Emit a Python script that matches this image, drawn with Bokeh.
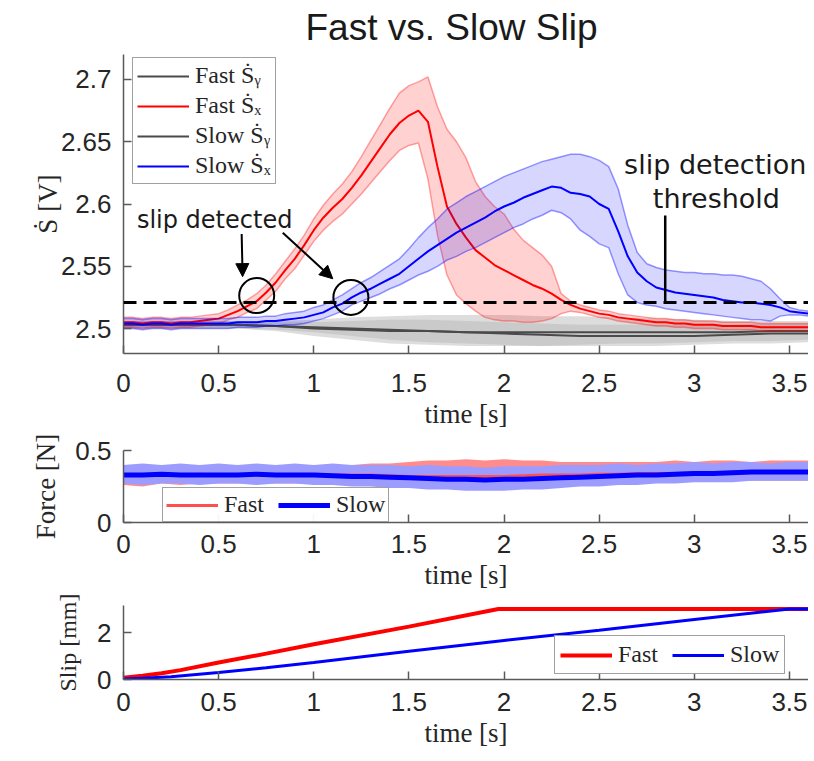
from bokeh.plotting import figure
from bokeh.layouts import column
from bokeh.models import Range1d, FixedTicker, Legend, LegendItem, Span, Arrow, NormalHead
from bokeh.core.properties import value
from bokeh.embed import file_html
from bokeh.resources import INLINE

# ---------------- data ----------------
TITLE = "Fast vs. Slow Slip"

T = [0.00,0.05,0.10,0.15,0.20,0.25,0.30,0.35,0.40,0.45,0.50,0.55,0.60,0.65,0.70,0.75,0.80,0.85,0.90,0.95,
     1.00,1.05,1.10,1.15,1.20,1.25,1.30,1.35,1.40,1.45,1.50,1.55,1.60,1.65,1.70,1.75,1.80,1.85,1.90,1.95,
     2.00,2.05,2.10,2.15,2.20,2.25,2.30,2.35,2.40,2.45,2.50,2.55,2.60,2.65,2.70,2.75,2.80,2.85,2.90,2.95,
     3.00,3.05,3.10,3.15,3.20,3.25,3.30,3.35,3.40,3.45,3.50,3.55,3.60]

fast_sx_mean = [2.505,2.505,2.504,2.505,2.505,2.504,2.505,2.505,2.506,2.507,2.508,2.511,2.514,2.518,2.522,2.529,2.537,2.547,2.556,2.567,
                2.579,2.589,2.597,2.604,2.613,2.623,2.634,2.645,2.656,2.665,2.671,2.675,2.666,2.630,2.598,2.584,2.573,2.563,2.557,2.551,
                2.547,2.543,2.539,2.535,2.532,2.528,2.523,2.519,2.516,2.514,2.512,2.511,2.509,2.508,2.507,2.506,2.505,2.505,2.504,2.504,
                2.503,2.503,2.503,2.502,2.502,2.502,2.502,2.501,2.501,2.501,2.501,2.501,2.501]
fast_sx_hi = [2.509,2.509,2.508,2.509,2.509,2.508,2.509,2.509,2.510,2.511,2.512,2.515,2.519,2.523,2.528,2.535,2.544,2.554,2.564,2.575,
              2.588,2.599,2.608,2.616,2.626,2.638,2.651,2.664,2.677,2.689,2.695,2.698,2.702,2.678,2.660,2.650,2.637,2.618,2.606,2.598,
              2.592,2.580,2.571,2.565,2.559,2.550,2.528,2.522,2.519,2.517,2.515,2.514,2.512,2.511,2.510,2.509,2.508,2.508,2.507,2.507,
              2.506,2.506,2.506,2.505,2.505,2.505,2.505,2.504,2.504,2.504,2.504,2.504,2.504]
fast_sx_lo = [2.501,2.501,2.500,2.501,2.501,2.500,2.501,2.501,2.502,2.503,2.504,2.507,2.509,2.513,2.516,2.523,2.530,2.540,2.548,2.559,
              2.570,2.579,2.586,2.592,2.600,2.608,2.617,2.626,2.635,2.643,2.647,2.649,2.620,2.575,2.543,2.527,2.520,2.514,2.509,2.507,
              2.506,2.506,2.505,2.505,2.506,2.508,2.512,2.514,2.513,2.511,2.509,2.508,2.506,2.505,2.504,2.503,2.502,2.502,2.501,2.501,
              2.500,2.500,2.500,2.499,2.499,2.499,2.499,2.498,2.498,2.498,2.498,2.498,2.498]

slow_sx_mean = [2.504,2.504,2.503,2.504,2.504,2.503,2.504,2.504,2.504,2.504,2.504,2.504,2.505,2.505,2.505,2.506,2.506,2.507,2.508,2.509,
                2.511,2.513,2.517,2.520,2.525,2.529,2.532,2.536,2.540,2.544,2.550,2.556,2.562,2.567,2.572,2.577,2.581,2.585,2.589,2.594,
                2.598,2.601,2.605,2.608,2.611,2.614,2.613,2.609,2.608,2.606,2.600,2.596,2.578,2.558,2.545,2.538,2.533,2.531,2.529,2.528,
                2.527,2.526,2.525,2.523,2.522,2.521,2.521,2.520,2.519,2.517,2.514,2.513,2.512]
slow_sx_hi = [2.508,2.508,2.507,2.508,2.508,2.507,2.508,2.508,2.508,2.508,2.508,2.508,2.509,2.509,2.509,2.510,2.510,2.512,2.513,2.514,
              2.517,2.519,2.523,2.527,2.532,2.537,2.541,2.546,2.551,2.556,2.564,2.573,2.581,2.588,2.596,2.601,2.606,2.610,2.614,2.618,
              2.622,2.625,2.628,2.631,2.634,2.636,2.638,2.640,2.640,2.638,2.635,2.630,2.612,2.583,2.561,2.552,2.549,2.547,2.546,2.545,
              2.545,2.544,2.544,2.543,2.543,2.542,2.540,2.538,2.532,2.524,2.517,2.515,2.514]
slow_sx_lo = [2.500,2.500,2.499,2.500,2.500,2.499,2.500,2.500,2.500,2.500,2.500,2.500,2.501,2.501,2.501,2.502,2.502,2.503,2.503,2.504,
              2.506,2.508,2.511,2.514,2.519,2.522,2.525,2.528,2.532,2.535,2.539,2.543,2.546,2.550,2.555,2.558,2.562,2.565,2.569,2.573,
              2.577,2.581,2.584,2.588,2.591,2.595,2.593,2.588,2.579,2.574,2.568,2.565,2.544,2.527,2.521,2.519,2.518,2.516,2.515,2.514,
              2.513,2.512,2.511,2.510,2.509,2.508,2.507,2.507,2.506,2.510,2.511,2.511,2.510]

T_SY = [0.0,0.2,0.4,0.6,0.8,1.0,1.2,1.4,1.6,1.8,2.0,2.2,2.4,2.6,2.8,3.0,3.2,3.4,3.6]
fast_sy_mean = [2.503,2.503,2.503,2.503,2.502,2.500,2.499,2.498,2.498,2.497,2.497,2.497,2.497,2.497,2.497,2.497,2.497,2.498,2.498]
fast_sy_hi   = [2.506,2.506,2.506,2.506,2.506,2.507,2.509,2.510,2.511,2.511,2.511,2.510,2.510,2.509,2.508,2.507,2.506,2.506,2.506]
fast_sy_lo   = [2.500,2.500,2.500,2.500,2.498,2.494,2.491,2.488,2.487,2.486,2.486,2.486,2.487,2.488,2.488,2.489,2.490,2.490,2.491]
slow_sy_mean = [2.503,2.503,2.503,2.503,2.502,2.501,2.500,2.499,2.498,2.497,2.496,2.495,2.494,2.494,2.494,2.494,2.495,2.496,2.496]
slow_sy_hi   = [2.506,2.506,2.506,2.506,2.505,2.505,2.506,2.507,2.507,2.506,2.505,2.504,2.503,2.503,2.503,2.503,2.503,2.504,2.504]
slow_sy_lo   = [2.500,2.500,2.500,2.500,2.499,2.497,2.494,2.491,2.489,2.488,2.487,2.486,2.486,2.486,2.486,2.487,2.488,2.488,2.489]

THRESH = 2.521
detect_t = [0.70, 1.195]
detect_v = [2.5265, 2.525]

T_F = [0.0,0.1,0.2,0.3,0.4,0.5,0.6,0.7,0.8,0.9,1.0,1.1,1.2,1.3,1.4,1.5,1.6,1.7,1.8,1.9,
       2.0,2.1,2.2,2.3,2.4,2.5,2.6,2.7,2.8,2.9,3.0,3.1,3.2,3.3,3.4,3.5,3.6]
slow_f_mean = [0.33,0.33,0.335,0.33,0.33,0.33,0.33,0.335,0.33,0.33,0.33,0.325,0.32,0.32,0.315,0.31,0.305,0.30,0.30,0.295,
               0.30,0.30,0.305,0.31,0.315,0.32,0.325,0.33,0.33,0.335,0.34,0.34,0.345,0.35,0.35,0.35,0.35]
slow_f_hi = [0.40,0.41,0.40,0.41,0.40,0.41,0.40,0.41,0.40,0.41,0.40,0.41,0.40,0.40,0.40,0.39,0.40,0.39,0.39,0.38,
             0.39,0.39,0.39,0.40,0.40,0.40,0.41,0.40,0.41,0.41,0.42,0.41,0.42,0.42,0.41,0.42,0.42]
slow_f_lo = [0.27,0.26,0.27,0.27,0.26,0.27,0.27,0.26,0.27,0.27,0.26,0.26,0.25,0.25,0.24,0.24,0.23,0.23,0.22,0.22,
             0.22,0.23,0.23,0.24,0.25,0.25,0.26,0.26,0.27,0.27,0.28,0.28,0.28,0.29,0.29,0.29,0.29]
fast_f_mean = [0.33,0.33,0.33,0.33,0.335,0.33,0.33,0.33,0.33,0.33,0.33,0.33,0.33,0.33,0.325,0.32,0.32,0.32,0.32,0.32,
               0.32,0.325,0.33,0.33,0.33,0.335,0.335,0.34,0.34,0.34,0.345,0.345,0.35,0.35,0.35,0.35,0.35]
fast_f_hi = [0.39,0.40,0.39,0.40,0.40,0.40,0.39,0.40,0.40,0.40,0.40,0.40,0.40,0.41,0.41,0.42,0.43,0.43,0.44,0.43,
             0.44,0.43,0.43,0.42,0.42,0.42,0.42,0.42,0.42,0.43,0.42,0.43,0.43,0.42,0.43,0.43,0.43]
fast_f_lo = [0.26,0.25,0.27,0.26,0.27,0.27,0.27,0.27,0.27,0.27,0.27,0.27,0.27,0.27,0.27,0.27,0.26,0.26,0.26,0.26,
             0.26,0.27,0.27,0.27,0.27,0.28,0.28,0.28,0.28,0.28,0.29,0.29,0.29,0.29,0.29,0.29,0.29]

T_SLIP_FAST = [0.0,0.1,0.2,0.3,0.5,0.75,1.0,1.5,1.97,2.0,3.6]
slip_fast   = [0.08,0.16,0.27,0.40,0.72,1.10,1.50,2.25,3.00,3.00,3.00]
T_SLIP_SLOW = [0.0,0.1,0.25,0.5,0.75,1.0,1.5,2.0,2.5,3.0,3.5,3.6]
slip_slow   = [0.02,0.05,0.12,0.30,0.50,0.72,1.20,1.66,2.10,2.55,3.00,3.00]

x_ticks = [0, 0.5, 1, 1.5, 2, 2.5, 3, 3.5]
x_tick_labels = ["0", "0.5", "1", "1.5", "2", "2.5", "3", "3.5"]
s_ticks = [2.5, 2.55, 2.6, 2.65, 2.7]
s_tick_labels = ["2.5", "2.55", "2.6", "2.65", "2.7"]
f_ticks = [0, 0.5]
f_tick_labels = ["0", "0.5"]
slip_ticks = [0, 2]
slip_tick_labels = ["0", "2"]

# ---------------- styling helpers ----------------
TXT = "#262626"
AX = "#5a5a5a"
RED = "#ff0000"
BLUE = "#0000ff"


def style(p, xt, xl, yt, yl, xlab_standoff, ylab_standoff, ylab_size="27px"):
    xa, ya = p.xaxis[0], p.yaxis[0]
    xa.ticker = FixedTicker(ticks=xt)
    xa.major_label_overrides = {t: l for t, l in zip(xt, xl)}
    ya.ticker = FixedTicker(ticks=yt)
    ya.major_label_overrides = {t: l for t, l in zip(yt, yl)}
    for ax in (xa, ya):
        ax.major_tick_in = 8
        ax.major_tick_out = 0
        ax.minor_tick_line_color = None
        ax.axis_line_color = AX
        ax.axis_line_width = 1.5
        ax.major_tick_line_color = AX
        ax.major_tick_line_width = 1.5
        ax.major_label_text_font = "Liberation Sans"
        ax.major_label_text_font_size = "26px"
        ax.major_label_text_color = TXT
        ax.axis_label_text_font = "Liberation Serif"
        ax.axis_label_text_font_size = "27px"
        ax.axis_label_text_font_style = "normal"
        ax.axis_label_text_color = TXT
    ya.axis_label_text_font_size = ylab_size
    xa.major_label_standoff = xlab_standoff
    xa.axis_label_standoff = 4
    ya.major_label_standoff = 12
    ya.axis_label_standoff = ylab_standoff
    p.grid.visible = False
    p.outline_line_color = None
    p.background_fill_color = "white"
    p.border_fill_color = "white"


def make_fig(frame_h, top, bottom, title=None):
    kw = dict(frame_width=685, frame_height=frame_h, min_border_left=123, min_border_right=0,
              min_border_top=top, min_border_bottom=bottom, output_backend="svg",
              toolbar_location=None, x_range=Range1d(0, 3.6))
    if title:
        kw["title"] = title
    return figure(**kw)


def legend(items, loc, horizontal=False, pad=3):
    kw = dict(items=items, location=loc, glyph_width=52, glyph_height=20, label_height=20,
              label_standoff=6, margin=0, border_line_color="#444", border_line_width=1.5,
              label_text_font="Liberation Serif", label_text_font_size="24px", label_text_color=TXT)
    if horizontal:
        kw.update(orientation="horizontal", spacing=14, padding=pad)
    else:
        kw.update(spacing=3, padding=4)
    return Legend(**kw)

# ---------------- top panel ----------------
p1 = make_fig(299, 54, 80, title=TITLE)
p1.y_range = Range1d(2.48, 2.72)
p1.title.align = "left"
p1.title.offset = 182
p1.title.vertical_align = "top"
p1.title.standoff = 10
p1.title.text_font = "Liberation Sans"
p1.title.text_font_size = "37px"
p1.title.text_font_style = "normal"
p1.title.text_color = "#1a1a1a"

# gray Sy bands
p1.varea(x=T_SY, y1=fast_sy_lo, y2=fast_sy_hi, fill_color="#b4b4b4", fill_alpha=0.45)
p1.varea(x=T_SY, y1=slow_sy_lo, y2=slow_sy_hi, fill_color="#b4b4b4", fill_alpha=0.45)
r_fsy = p1.line(T_SY, fast_sy_mean, line_color="#4a4a4a", line_width=2)
r_ssy = p1.line(T_SY, slow_sy_mean, line_color="#4a4a4a", line_width=2)

# fast Sx
p1.varea(x=T, y1=fast_sx_lo, y2=fast_sx_hi, fill_color=RED, fill_alpha=0.18)
p1.line(T, fast_sx_hi, line_color=RED, line_alpha=0.35, line_width=1.5)
p1.line(T, fast_sx_lo, line_color=RED, line_alpha=0.35, line_width=1.5)
r_fsx = p1.line(T, fast_sx_mean, line_color=RED, line_width=2)

# slow Sx
p1.varea(x=T, y1=slow_sx_lo, y2=slow_sx_hi, fill_color=BLUE, fill_alpha=0.16)
p1.line(T, slow_sx_hi, line_color=BLUE, line_alpha=0.4, line_width=1.5)
p1.line(T, slow_sx_lo, line_color=BLUE, line_alpha=0.4, line_width=1.5)
r_ssx = p1.line(T, slow_sx_mean, line_color=BLUE, line_width=2)

# threshold + annotations
p1.add_layout(Span(location=THRESH, dimension="width", line_color="black", line_width=3, line_dash="13 7"))
p1.scatter(detect_t, detect_v, marker="circle", size=35, fill_alpha=0, line_color="black", line_width=2)
p1.add_layout(Arrow(x_start=0.621, y_start=2.576, x_end=0.626, y_end=2.5417, line_width=2,
                    end=NormalHead(size=13, fill_color="black", line_color="black")))
p1.add_layout(Arrow(x_start=0.837, y_start=2.577, x_end=1.10, y_end=2.540, line_width=2,
                    end=NormalHead(size=13, fill_color="black", line_color="black")))
p1.segment(x0=[2.847], y0=[2.5907], x1=[2.847], y1=[THRESH], line_color="black", line_width=2.5)
p1.text(x=[0.479], y=[2.5875], text=["slip detected"],
        text_font=value("DejaVu Sans"), text_font_size="24px", text_color="#1a1a1a",
        text_align="center", text_baseline="middle")
p1.text(x=[3.11, 3.116], y=[2.6315, 2.6045], text=["slip detection", "threshold"],
        text_font=value("DejaVu Sans"), text_font_size="27px", text_color="#1a1a1a",
        text_align="center", text_baseline="middle")

style(p1, x_ticks, x_tick_labels, s_ticks, s_tick_labels, 20, -5)
p1.xaxis.axis_label = "time [s]"
p1.yaxis.axis_label = "Ṡ [V]"

p1.add_layout(legend([LegendItem(label="Fast Ṡᵧ", renderers=[r_fsy]),
                      LegendItem(label="Fast Ṡₓ", renderers=[r_fsx]),
                      LegendItem(label="Slow Ṡᵧ", renderers=[r_ssy]),
                      LegendItem(label="Slow Ṡₓ", renderers=[r_ssx])], (9, 169)))

# ---------------- force panel ----------------
p2 = make_fig(72, 17, 67)
p2.y_range = Range1d(0, 0.5)
p2.varea(x=T_F, y1=fast_f_lo, y2=fast_f_hi, fill_color="#ff8c8c", fill_alpha=1.0)
p2.varea(x=T_F, y1=slow_f_lo, y2=slow_f_hi, fill_color="#9c9cff", fill_alpha=1.0)
r_ff = p2.line(T_F, fast_f_mean, line_color="#ff5050", line_width=3)
r_sf = p2.line(T_F, slow_f_mean, line_color=BLUE, line_width=5)
style(p2, x_ticks, x_tick_labels, f_ticks, f_tick_labels, 12, 11)
p2.xaxis.axis_label = "time [s]"
p2.yaxis.axis_label = "Force [N]"
p2.add_layout(legend([LegendItem(label="Fast", renderers=[r_ff]),
                      LegendItem(label="Slow", renderers=[r_sf])], (39, 0), horizontal=True))

# ---------------- slip panel ----------------
p3 = make_fig(74, 13, 72)
p3.y_range = Range1d(0, 3.15)
r_fs = p3.line(T_SLIP_FAST, slip_fast, line_color=RED, line_width=4)
r_ss = p3.line(T_SLIP_SLOW, slip_slow, line_color=BLUE, line_width=3)
style(p3, x_ticks, x_tick_labels, slip_ticks, slip_tick_labels, 13, 13, ylab_size="24px")
p3.xaxis.axis_label = "time [s]"
p3.yaxis.axis_label = "Slip [mm]"
p3.add_layout(legend([LegendItem(label="Fast", renderers=[r_fs]),
                      LegendItem(label="Slow", renderers=[r_ss])], (431, 5), horizontal=True, pad=5))

layout = column(p1, p2, p3, spacing=0)
open("out.html", "w").write(file_html(layout, INLINE))
